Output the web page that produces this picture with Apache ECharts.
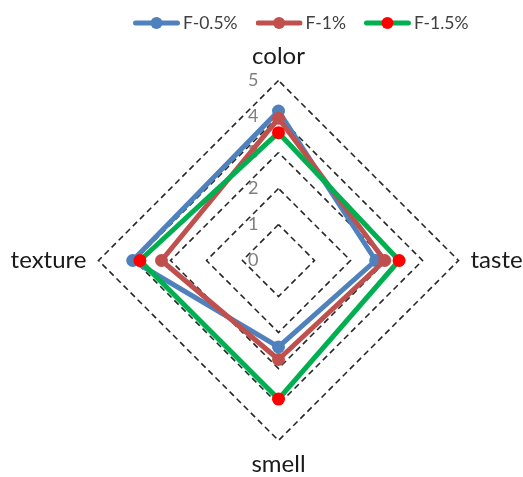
<!DOCTYPE html>
<html>
<head>
<meta charset="utf-8">
<script src="https://cdn.jsdelivr.net/npm/echarts@6/dist/echarts.min.js"></script>
<style>
  html, body { margin: 0; padding: 0; background: #fff; }
  #chart { width: 523px; height: 477px; }
</style>
</head>
<body>
<div id="chart"></div>
<script>
// Indicators in drawing order (ECharts places them counter-clockwise from the top)
const indicators = ['color', 'texture', 'smell', 'taste'];
const maxValue = 5;
const seriesNames = ['F-0.5%', 'F-1%', 'F-1.5%'];
// Scores per formulation, same order as indicators
const f05 = [4.15, 4.05, 2.4, 2.7];
const f10 = [3.95, 3.25, 2.75, 2.95];
const f15 = [3.55, 3.85, 3.85, 3.35];

const lineColors = ['#4F81BD', '#C0504D', '#00B050'];
const markerColors = ['#4F81BD', '#C0504D', '#FF0000'];
const values = [f05, f10, f15];

const font = 'Lato, "Open Sans", sans-serif';

// Legend swatch: a thick line with a round marker in the middle
function legendIcon(line, dot) {
  const svg = '<svg xmlns="http://www.w3.org/2000/svg" width="47" height="14" viewBox="0 0 47 14">' +
    '<line x1="2.5" y1="7" x2="44.5" y2="7" stroke="' + line + '" stroke-width="5" stroke-linecap="round"/>' +
    '<circle cx="23.5" cy="7" r="6" fill="' + dot + '"/></svg>';
  return 'image://data:image/svg+xml;charset=utf-8,' + encodeURIComponent(svg);
}

const chart = echarts.init(document.getElementById('chart'), null, { renderer: 'canvas' });

chart.setOption({
  animation: false,
  backgroundColor: '#ffffff',
  legend: {
    top: 14,
    left: 133,
    padding: 0,
    itemWidth: 47,
    itemHeight: 14,
    itemGap: 18,
    textStyle: { fontFamily: font, fontSize: 17.5, color: '#404040', padding: [0, 0, 0, -2] },
    data: seriesNames.map((n, i) => ({ name: n, icon: legendIcon(lineColors[i], markerColors[i]) }))
  },
  radar: {
    center: [278.5, 260.5],
    radius: 180,
    startAngle: 90,
    shape: 'polygon',
    splitNumber: 5,
    nameGap: 12,
    axisName: { color: '#1a1a1a', fontFamily: font, fontSize: 24 },
    indicator: indicators.map((n, i) => {
      const ind = { name: n, min: 0, max: maxValue };
      if (i === 0) {
        ind.axisLabel = {
          show: true,
          color: '#7f7f7f',
          fontFamily: font,
          fontSize: 18,
          margin: 20,
          showMinLabel: true,
          showMaxLabel: true
        };
      }
      return ind;
    }),
    axisLine: { show: false },
    axisTick: { show: false },
    axisLabel: { show: false },
    splitArea: { show: false },
    splitLine: { lineStyle: { color: '#262626', type: [6, 4], width: 1.6 } }
  },
  series: seriesNames.map((name, i) => ({
    type: 'radar',
    name: name,
    z: 2 + i,
    symbol: 'circle',
    symbolSize: 13,
    lineStyle: { color: lineColors[i], width: 5 },
    itemStyle: { color: markerColors[i], borderWidth: 0 },
    data: [{ value: values[i], name: name }]
  }))
});
</script>
</body>
</html>
